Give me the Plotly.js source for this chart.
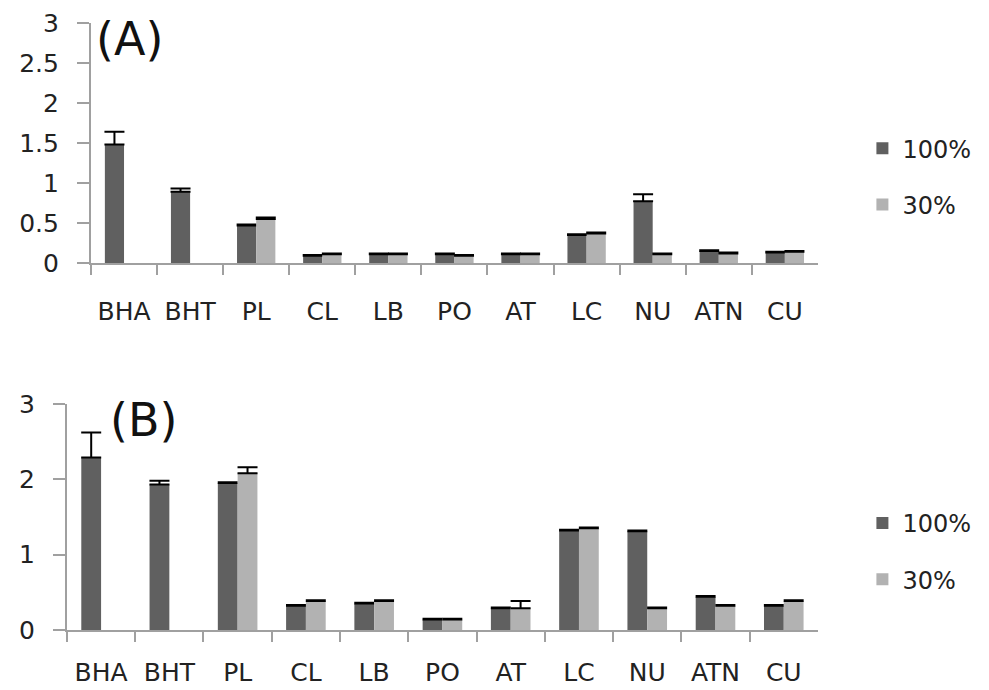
<!DOCTYPE html>
<html>
<head>
<meta charset="utf-8">
<script src="https://cdn.plot.ly/plotly-3.0.1.min.js"></script>
<style>html,body{margin:0;padding:0;background:#fff;}#chart{width:989px;height:690px;}</style>
</head>
<body>
<div id="chart"></div>
<script>
const categories = ['BHA','BHT','PL','CL','LB','PO','AT','LC','NU','ATN','CU'];
const seriesNames = ['100%','30%'];

const A100 = [1.48, 0.89, 0.47, 0.09, 0.11, 0.11, 0.11, 0.35, 0.77, 0.15, 0.13];
const A100err = [0.16, 0.04, 0.01, 0.01, 0.01, 0.01, 0.01, 0.01, 0.09, 0.01, 0.01];
const A30 = [null, null, 0.55, 0.11, 0.11, 0.09, 0.11, 0.37, 0.11, 0.12, 0.14];
const A30err = [0, 0, 0.02, 0.01, 0.01, 0.01, 0.01, 0.01, 0.01, 0.01, 0.01];

const B100 = [2.29, 1.93, 1.95, 0.32, 0.35, 0.14, 0.29, 1.32, 1.31, 0.44, 0.32];
const B100err = [0.33, 0.05, 0.01, 0.01, 0.01, 0.01, 0.01, 0.01, 0.01, 0.01, 0.01];
const B30 = [null, null, 2.08, 0.385, 0.385, 0.14, 0.29, 1.35, 0.29, 0.32, 0.385];
const B30err = [0, 0, 0.08, 0.01, 0.01, 0.01, 0.095, 0.01, 0.01, 0.01, 0.01];

const yTicksA = [0, 0.5, 1, 1.5, 2, 2.5, 3];
const yTicksB = [0, 1, 2, 3];

const dark = '#606060', light = '#b2b2b2';
const zeros = categories.map(() => 0);

function bar(y, err, name, color, xa, ya, leg, grp) {
  return {
    type: 'bar', x: categories, y: y, name: name, xaxis: xa, yaxis: ya,
    legend: leg, legendgroup: grp,
    marker: {color: color, line: {width: 0}},
    error_y: {type: 'data', array: err, arrayminus: zeros, symmetric: false,
              color: '#000', thickness: 2, width: 10},
    hoverinfo: 'x+y'
  };
}

const data = [
  bar(A100, A100err, seriesNames[0], dark, 'x', 'y', 'legend', 'a1'),
  bar(A30, A30err, seriesNames[1], light, 'x', 'y', 'legend', 'a2'),
  bar(B100, B100err, seriesNames[0], dark, 'x2', 'y2', 'legend2', 'b1'),
  bar(B30, B30err, seriesNames[1], light, 'x2', 'y2', 'legend2', 'b2')
];

const axisCol = '#a0a0a0';
const textCol = '#222';
const fontFam = 'DejaVu Sans, Verdana, sans-serif';

function xax(domain, anchor, standoff) {
  return {
    domain: domain, anchor: anchor, type: 'category', range: [-0.5, 10.5],
    showline: true, linecolor: axisCol, linewidth: 2,
    ticks: 'outside', tickson: 'boundaries', ticklen: 10, tickwidth: 2, tickcolor: axisCol,
    showgrid: false, zeroline: false, ticklabelstandoff: standoff,
    tickfont: {family: fontFam, size: 25, color: textCol}, fixedrange: true
  };
}
function yax(domain, anchor, ticks) {
  return {
    domain: domain, anchor: anchor, range: [0, 3],
    tickmode: 'array', tickvals: ticks, ticktext: ticks.map(String),
    showline: true, linecolor: axisCol, linewidth: 2,
    ticks: 'outside', ticklen: 12, tickwidth: 2, tickcolor: axisCol,
    showgrid: false, zeroline: false, ticklabelstandoff: 13,
    tickfont: {family: fontFam, size: 25, color: textCol}, fixedrange: true
  };
}

const layout = {
  width: 989, height: 690,
  margin: {l: 0, r: 0, t: 0, b: 0},
  paper_bgcolor: '#fff', plot_bgcolor: '#fff',
  barmode: 'group', bargap: 0.42, bargroupgap: 0,
  font: {family: fontFam, color: textCol},
  xaxis: xax([0.092, 0.827], 'y', 25),
  yaxis: yax([0.6188, 0.967], 'x', yTicksA),
  xaxis2: xax([0.0677, 0.827], 'y2', 19),
  yaxis2: yax([0.087, 0.4145], 'x2', yTicksB),
  showlegend: true,
  legend: {x: 0.872, y: 0.817, xanchor: 'left', yanchor: 'top', traceorder: 'grouped',
           tracegroupgap: 22, font: {family: fontFam, size: 24, color: textCol},
           bgcolor: 'rgba(0,0,0,0)'},
  legend2: {x: 0.872, y: 0.274, xanchor: 'left', yanchor: 'top', traceorder: 'grouped',
           tracegroupgap: 22, font: {family: fontFam, size: 24, color: textCol},
           bgcolor: 'rgba(0,0,0,0)'},
  annotations: [
    {text: '(A)', xref: 'paper', yref: 'paper', x: 0.1314, y: 0.9435, xanchor: 'center', yanchor: 'middle',
     showarrow: false, font: {family: fontFam, size: 46, color: '#111'}},
    {text: '(B)', xref: 'paper', yref: 'paper', x: 0.1446, y: 0.3913, xanchor: 'center', yanchor: 'middle',
     showarrow: false, font: {family: fontFam, size: 46, color: '#111'}}
  ]
};

Plotly.newPlot('chart', data, layout, {displayModeBar: false, staticPlot: true});
</script>
</body>
</html>
